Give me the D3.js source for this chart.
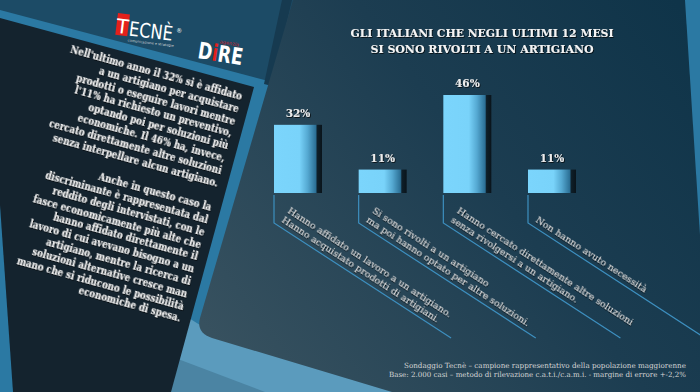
<!DOCTYPE html>
<html>
<head>
<meta charset="utf-8">
<script src="https://cdn.jsdelivr.net/npm/d3@7"></script>
<style>
  html, body { margin: 0; padding: 0; background: #2b79a3; }
  svg { display: block; }
</style>
</head>
<body>
<div id="chart"></div>
<script>
// data
const categories = ["affidato", "rivolti", "cercato", "nessuna"];
const values = [32, 11, 46, 11];
const valueLabels = ["32%", "11%", "46%", "11%"];
const categoryLabels = [
  ["Hanno affidato un lavoro a un artigiano.", "Hanno acquistato prodotti di artigiani."],
  ["Si sono rivolti a un artigiano", "ma poi hanno optato per altre soluzioni."],
  ["Hanno cercato direttamente altre soluzioni", "senza rivolgersi a un artigiano."],
  ["Non hanno avuto necessità"]
];
const titleLines = ["GLI ITALIANI CHE NEGLI ULTIMI 12 MESI", "SI SONO RIVOLTI A UN ARTIGIANO"];
const noteLines = [
  "Sondaggio Tecnè – campione rappresentativo della popolazione maggiorenne",
  "Base: 2.000 casi – metodo di rilevazione c.a.t.i./c.a.m.i. - margine di errore +-2,2%"
];
const bodyLines = [
  "Nell'ultimo anno il 32% si è affidato",
  "a un artigiano per acquistare",
  "prodotti o eseguire lavori mentre",
  "l'11% ha richiesto un preventivo,",
  "optando poi per soluzioni più",
  "economiche. Il 46% ha, invece,",
  "cercato direttamente altre soluzioni",
  "senza interpellare alcun artigiano.",
  "",
  "Anche in questo caso la",
  "discriminante è rappresentata dal",
  "reddito degli intervistati, con le",
  "fasce economicamente più alte che",
  "hanno affidato direttamente il",
  "lavoro di cui avevano bisogno a un",
  "artigiano, mentre la ricerca di",
  "soluzioni alternative cresce man",
  "mano che si riducono le possibilità",
  "economiche di spesa."
];

const W = 700, H = 392;
const serif = "'DejaVu Serif', 'Liberation Serif', serif";

const svg = d3.select("#chart").append("svg")
  .attr("width", W)
  .attr("height", H);

const defs = svg.append("defs");

// bar shading: flat cyan, then darker towards a black right edge
const barGrad = defs.append("linearGradient").attr("id", "barGrad");
[[0, "#7bd5fc"], [0.53, "#79d3fa"], [0.7, "#55a9d2"], [0.87, "#2b6f95"],
 [0.9, "#0e1f29"], [1, "#0a141b"]].forEach(([o, c]) =>
  barGrad.append("stop").attr("offset", o).attr("stop-color", c));

const panelGrad = defs.append("linearGradient")
  .attr("id", "panelGrad")
  .attr("gradientUnits", "userSpaceOnUse")
  .attr("x1", 690).attr("y1", 20).attr("x2", 230).attr("y2", 360);
[[0, "#0f3449"], [0.45, "#1c3d51"], [1, "#37515f"]].forEach(([o, c]) =>
  panelGrad.append("stop").attr("offset", o).attr("stop-color", c));

const shadow = defs.append("filter").attr("id", "shadow")
  .attr("x", "-5%").attr("y", "-20%").attr("width", "110%").attr("height", "140%");
shadow.append("feDropShadow")
  .attr("dx", 0.8).attr("dy", 0.8).attr("stdDeviation", 0.4)
  .attr("flood-color", "#000").attr("flood-opacity", 0.85);

// background panels
const bg = svg.append("g");
bg.append("rect").attr("width", W).attr("height", H).attr("fill", "#2b79a3");
bg.append("polygon").attr("points", "160,300 200,325 420,392 160,392").attr("fill", "#5b9bbd");
bg.append("polygon").attr("points", "170,356 265,392 170,392").attr("fill", "#4b84a3");
bg.append("polygon").attr("points", "0,0 300,0 280,84 0,10").attr("fill", "#1c4b66");
bg.append("polygon").attr("points", "0,18 254,87 171,392 13,392 0,205").attr("fill", "#14232e");
// darker shadow band along the left edge of the chart panel
bg.append("path")
  .attr("d", "M282,0 L292,0 L272,86 L264,84 Z")
  .attr("fill", "#163a50");
bg.append("path")
  .attr("d", "M293,0 L685,0 L710,392 L392,392 L212,338 Q196,333 200,318 Z")
  .attr("fill", "url(#panelGrad)");

// logos
const tecne = svg.append("g").attr("transform", "translate(118,13) rotate(7)");
tecne.append("rect").attr("width", 12).attr("height", 22).attr("fill", "#e3201b");
tecne.append("text").attr("x", 6).attr("y", 20).attr("text-anchor", "middle")
  .attr("font-family", "'DejaVu Sans', sans-serif").attr("font-size", 20)
  .attr("fill", "#fff").text("T");
tecne.append("text").attr("x", 13).attr("y", 21)
  .attr("font-family", "'DejaVu Sans', sans-serif").attr("font-size", 20)
  .attr("textLength", 44).attr("lengthAdjust", "spacingAndGlyphs")
  .attr("fill", "#fff").text("ECNÈ");
tecne.append("text").attr("x", 60).attr("y", 12)
  .attr("font-family", "'DejaVu Sans', sans-serif").attr("font-size", 6)
  .attr("fill", "#fff").text("®");
tecne.append("text").attr("x", 13).attr("y", 27)
  .attr("font-family", "'DejaVu Sans', sans-serif").attr("font-size", 3.5)
  .attr("fill", "#ddd").text("comunicazione e strategie");

const dire = svg.append("g").attr("transform", "translate(197,58) rotate(9)");
dire.append("text")
  .attr("font-family", "'DejaVu Sans', sans-serif").attr("font-weight", "bold")
  .attr("font-size", 23).attr("textLength", 45).attr("lengthAdjust", "spacingAndGlyphs")
  .call(t => {
    t.append("tspan").attr("fill", "#fff").text("D");
    t.append("tspan").attr("fill", "#e3201b").text("i");
    t.append("tspan").attr("fill", "#fff").text("RE");
  });
dire.append("text").attr("x", 20).attr("y", -18)
  .attr("font-family", "'DejaVu Sans', sans-serif").attr("font-size", 5)
  .attr("fill", "#c8202a").text("agenzia");

// left column text
const body = svg.append("g")
  .attr("transform", "translate(241,100) rotate(15.5)")
  .attr("filter", "url(#shadow)");
const bodyInner = body.append("g");
bodyInner.selectAll("text")
  .data(bodyLines)
  .join("text")
    .attr("x", 0)
    .attr("y", (d, i) => i * 12.8)
    .attr("text-anchor", "end")
    .attr("font-family", serif)
    .attr("font-weight", "bold")
    .attr("font-size", 10.5)
    .attr("fill", "#f2f2f2")
    .text(d => d);
const firstLen = bodyInner.select("text").node().getComputedTextLength();
bodyInner.attr("transform", `scale(${178 / firstLen},1)`);

// title
svg.append("g").attr("filter", "url(#shadow)")
  .selectAll("text")
  .data(titleLines)
  .join("text")
    .attr("x", 482)
    .attr("y", (d, i) => 37 + i * 16)
    .attr("text-anchor", "middle")
    .attr("font-family", serif)
    .attr("font-size", 11.5)
    .attr("font-weight", "bold")
    .attr("textLength", (d, i) => [263, 223][i])
    .attr("lengthAdjust", "spacingAndGlyphs")
    .attr("fill", "#f4f4f4")
    .text(d => d);

// scales
const x = d3.scaleBand()
  .domain(categories)
  .range([274, 576])
  .paddingInner(0.433)
  .paddingOuter(0);
const y = d3.scaleLinear()
  .domain([0, 46])
  .range([193, 95]);

const chart = svg.append("g");

chart.selectAll("rect.bar")
  .data(values)
  .join("rect")
    .attr("class", "bar")
    .attr("x", (d, i) => x(categories[i]))
    .attr("y", d => y(d))
    .attr("width", x.bandwidth())
    .attr("height", d => y(0) - y(d))
    .attr("fill", "url(#barGrad)");

chart.selectAll("text.val")
  .data(values)
  .join("text")
    .attr("class", "val")
    .attr("x", (d, i) => x(categories[i]) + x.bandwidth() / 2)
    .attr("y", d => y(d) - 8)
    .attr("text-anchor", "middle")
    .attr("font-family", serif)
    .attr("font-weight", "bold")
    .attr("font-size", 10.5)
    .attr("fill", "#ececec")
    .attr("filter", "url(#shadow)")
    .text((d, i) => valueLabels[i]);

// leader lines and slanted category labels
const ang = 33;
const bendY = 223, endY = 338;
const run = (endY - bendY) / Math.tan(ang * Math.PI / 180);

chart.selectAll("path.leader")
  .data(categories)
  .join("path")
    .attr("class", "leader")
    .attr("d", d => `M${x(d)},${y(0) + 2} V${bendY} L${x(d) + run},${endY}`)
    .attr("fill", "none")
    .attr("stroke", "#3d8fbf")
    .attr("stroke-width", 1.2);

const labels = chart.selectAll("g.lab")
  .data(categories)
  .join("g")
    .attr("class", "lab")
    .attr("transform", d => `translate(${x(d)},${bendY}) rotate(${ang})`)
    .attr("filter", "url(#shadow)");

labels.selectAll("text")
  .data((d, i) => categoryLabels[i].map((t, j, a) => ({ t, k: a.length - 1 - j })))
  .join("text")
    .attr("x", 5)
    .attr("y", d => -5 - d.k * 11)
    .attr("font-family", serif)
    .attr("font-size", 9.5)
    .attr("fill", "#dedede")
    .text(d => d.t);

// source note
svg.append("g")
  .selectAll("text")
  .data(noteLines)
  .join("text")
    .attr("x", 686)
    .attr("y", (d, i) => 368 + i * 9)
    .attr("text-anchor", "end")
    .attr("font-family", serif)
    .attr("font-size", 7.2)
    .attr("textLength", (d, i) => [282, 297][i])
    .attr("lengthAdjust", "spacingAndGlyphs")
    .attr("fill", "#d6d6d6")
    .text(d => d);
</script>
</body>
</html>
